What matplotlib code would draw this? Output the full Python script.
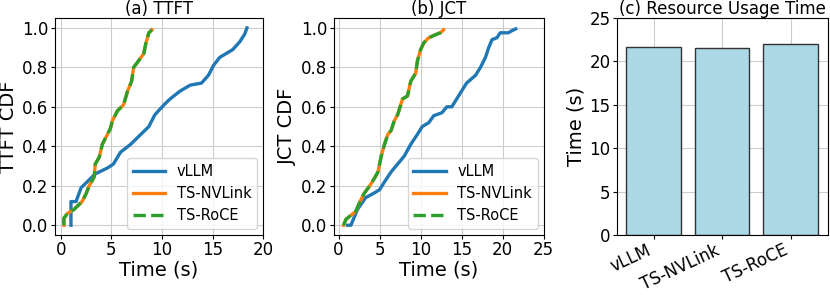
import numpy as np
import matplotlib
matplotlib.use('Agg')
import matplotlib.pyplot as plt

# (a) TTFT CDF
ttft_vllm_x = [1.0, 1.0, 1.5, 2.0, 2.6, 3.4, 4.6, 5.2, 5.9, 6.9, 7.9, 8.7, 9.3, 10.2, 10.8,
               11.8, 12.8, 13.9, 14.6, 15.1, 15.7, 17.0, 17.7, 18.2, 18.4]
ttft_vllm_y = [0.0, 0.12, 0.12, 0.19, 0.22, 0.26, 0.29, 0.31, 0.37, 0.41, 0.46, 0.50, 0.56, 0.61, 0.64,
               0.68, 0.71, 0.72, 0.76, 0.81, 0.85, 0.89, 0.93, 0.97, 1.0]
ttft_ts_x = [0.3, 0.3, 0.65, 1.3, 2.1, 2.5, 2.8, 3.3, 3.4, 3.8, 4.1, 4.6, 4.9, 5.1, 5.6,
             6.2, 6.6, 7.0, 7.2, 7.5, 8.2, 8.4, 8.7, 9.0]
ttft_ts_y = [0.0, 0.035, 0.06, 0.08, 0.12, 0.16, 0.20, 0.245, 0.31, 0.345, 0.41, 0.46, 0.49, 0.53, 0.58,
             0.61, 0.68, 0.73, 0.80, 0.82, 0.87, 0.92, 0.975, 0.99]

# (b) JCT CDF
jct_vllm_x = [1.1, 1.5, 2.3, 3.3, 4.2, 5.0, 5.6, 6.4, 7.2, 8.0, 8.8, 9.6, 10.2, 11.0, 11.6, 12.6,
              13.2, 13.8, 14.4, 15.0, 15.6, 16.7, 17.3, 17.9, 18.3, 18.7, 19.3, 19.7, 20.7, 21.1, 21.6]
jct_vllm_y = [0.0, 0.0, 0.08, 0.14, 0.16, 0.18, 0.22, 0.27, 0.31, 0.35, 0.41, 0.46, 0.50, 0.52, 0.555, 0.57,
              0.60, 0.60, 0.64, 0.68, 0.72, 0.76, 0.80, 0.85, 0.90, 0.94, 0.95, 0.975, 0.975, 0.985, 0.995]
jct_ts_x = [0.6, 0.9, 1.5, 2.1, 2.5, 3.1, 3.8, 4.4, 4.8, 5.2, 5.6, 6.0, 6.4, 6.8, 7.2, 7.8,
            8.4, 8.8, 9.4, 9.6, 10.0, 10.4, 11.0, 11.8, 12.4, 12.8]
jct_ts_y = [0.0, 0.03, 0.05, 0.07, 0.11, 0.16, 0.20, 0.24, 0.27, 0.35, 0.41, 0.46, 0.48, 0.53, 0.56, 0.64,
            0.655, 0.73, 0.77, 0.83, 0.89, 0.925, 0.95, 0.965, 0.975, 0.99]

# (c) resource usage time
systems = ['vLLM', 'TS-NVLink', 'TS-RoCE']
usage = [21.65, 21.5, 21.95]

blue, orange, green = '#1f77b4', '#ff7f0e', '#2ca02c'

fig = plt.figure(figsize=(8.3, 2.95), dpi=100)
ax1 = fig.add_axes([0.066, 0.203, 0.251, 0.736])
ax2 = fig.add_axes([0.402, 0.203, 0.253, 0.736])
ax3 = fig.add_axes([0.743, 0.203, 0.254, 0.736])

def cdf_panel(ax, vx, vy, tx, ty, title, ylabel, xmax):
    ax.plot(vx, vy, color=blue, lw=2.4, label='vLLM')
    ax.plot(tx, ty, color=orange, lw=2.4, label='TS-NVLink')
    ax.plot(tx, ty, color=green, lw=2.4, ls='--', label='TS-RoCE')
    ax.set_xlim(-0.6, xmax)
    ax.set_ylim(-0.05, 1.05)
    ax.set_xticks(np.arange(0, xmax + 1, 5))
    ax.set_yticks([0.0, 0.2, 0.4, 0.6, 0.8, 1.0])
    ax.grid(True, color='#cccccc', lw=0.8)
    ax.set_axisbelow(True)
    ax.tick_params(labelsize=12, length=3, pad=1.5)
    ax.set_xlabel('Time (s)', fontsize=14, labelpad=1)
    ax.set_ylabel(ylabel, fontsize=14, labelpad=3)
    ax.set_title(title, fontsize=12, pad=2)
    ax.legend(loc='lower right', fontsize=10.5, handlelength=2.2, borderaxespad=0.4)

cdf_panel(ax1, ttft_vllm_x, ttft_vllm_y, ttft_ts_x, ttft_ts_y, '(a) TTFT', 'TTFT CDF', 20)
cdf_panel(ax2, jct_vllm_x, jct_vllm_y, jct_ts_x, jct_ts_y, '(b) JCT', 'JCT CDF', 25)

ax3.bar(systems, usage, width=0.8, color='lightblue', edgecolor='#333333', lw=1)
ax3.set_ylim(0, 25)
ax3.set_yticks([0, 5, 10, 15, 20, 25])
ax3.grid(True, color='#cccccc', lw=0.8)
ax3.set_axisbelow(True)
ax3.tick_params(labelsize=12, length=3, pad=1.5)
plt.setp(ax3.get_xticklabels(), rotation=25, ha='right')
ax3.set_ylabel('Time (s)', fontsize=14, labelpad=3)
ax3.set_title('(c) Resource Usage Time', fontsize=12, pad=2)

fig.savefig('out.png', dpi=100)
